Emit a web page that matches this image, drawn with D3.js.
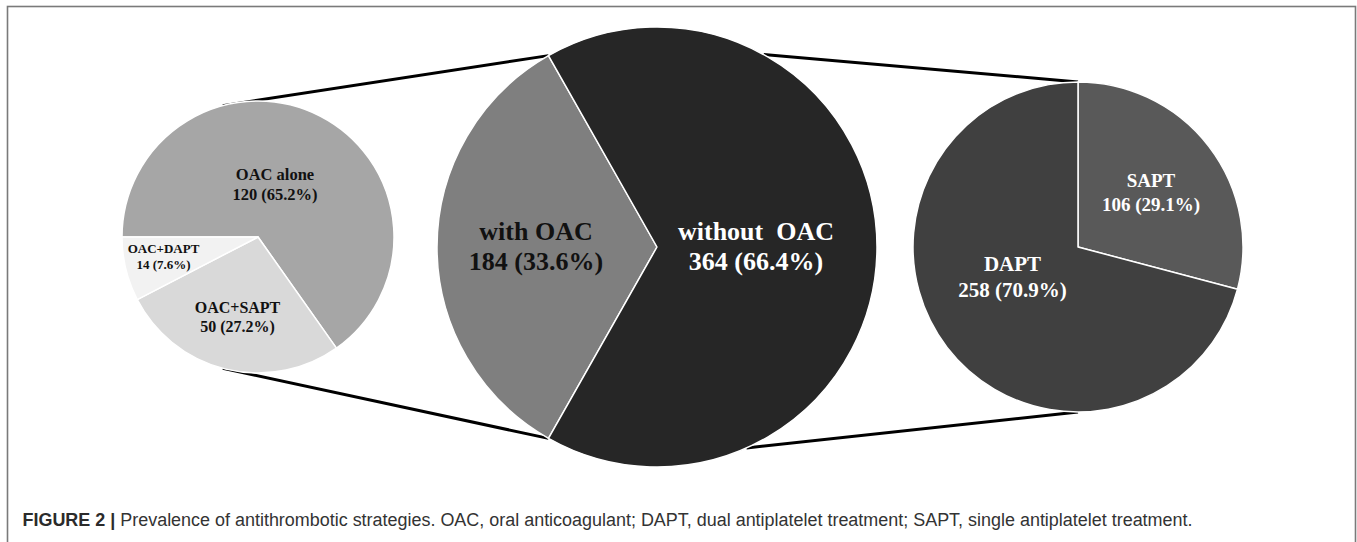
<!DOCTYPE html>
<html>
<head>
<meta charset="utf-8">
<script src="https://cdn.jsdelivr.net/npm/d3@7"></script>
<style>
  body { margin: 0; background: #fff; }
</style>
</head>
<body>
<script>
// dados
var leftLabels = ['OAC alone', 'OAC+SAPT', 'OAC+DAPT'];
var leftValues = [120, 50, 14];
var leftPct = ['65.2%', '27.2%', '7.6%'];

var midLabels = ['with OAC', 'without  OAC'];
var midValues = [184, 364];
var midPct = ['33.6%', '66.4%'];

var rightLabels = ['SAPT', 'DAPT'];
var rightValues = [106, 258];
var rightPct = ['29.1%', '70.9%'];

var caption = 'Prevalence of antithrombotic strategies. OAC, oral anticoagulant; DAPT, dual antiplatelet treatment; SAPT, single antiplatelet treatment.';

var svg = d3.select('body').append('svg').attr('width', 1357).attr('height', 542);

// moldura
svg.append('rect').attr('x', 7.5).attr('y', 6.5).attr('width', 1348).attr('height', 560)
    .attr('fill', 'none').attr('stroke', '#7a7a7a').attr('stroke-width', 1.6);

var deg = Math.PI / 180;
function ponto(c, r, a){
    return [c[0] + r * Math.sin(a), c[1] - r * Math.cos(a)];
}

// pizzas
var pizzas = [
    {c: [258, 237], r: 136, labels: leftLabels, values: leftValues, pct: leftPct,
     start: -90 * deg, cores: ['#a6a6a6', '#d9d9d9', '#f2f2f2'], txt: ['#111', '#111', '#111'],
     fs: [16.5, 16, 13], lh: [20, 19, 16],
     off: [[17, 180 - 237], [-20.5, 313 - 237], [-94.5, 253 - 237]]},
    {c: [657, 247], r: 220, labels: midLabels, values: midValues, pct: midPct, start: null,
     cores: ['#7f7f7f', '#262626'], txt: ['#111', '#fff'],
     fs: [26, 26], lh: [30, 30],
     off: [[-121, 240 - 247], [99, 240 - 247]]},
    {c: [1078, 247], r: 165, labels: rightLabels, values: rightValues, pct: rightPct, start: 0,
     cores: ['#595959', '#404040'], txt: ['#fff', '#fff'],
     fs: [19, 21], lh: [24, 26],
     off: [[73, 187 - 247], [-65.5, 271 - 247]]}
];

// fatia "with OAC" centrada à esquerda
var fracOAC = midValues[0] / d3.sum(midValues);
pizzas[1].start = 270 * deg - fracOAC * Math.PI;

pizzas.forEach(function(p){
    p.arcs = d3.pie().sort(null).value(function(d){ return d; })
        .startAngle(p.start).endAngle(p.start + 2 * Math.PI)(p.values);
});

// linhas de ligação
var esq = pizzas[0], meio = pizzas[1], dir = pizzas[2];
var ligacoes = [
    [ponto(esq.c, esq.r, -15 * deg), ponto(meio.c, meio.r, meio.arcs[0].endAngle)],
    [ponto(esq.c, esq.r, 195 * deg), ponto(meio.c, meio.r, meio.arcs[0].startAngle)],
    [ponto(meio.c, meio.r, 29 * deg), ponto(dir.c, dir.r, 0)],
    [ponto(meio.c, meio.r, 156 * deg), ponto(dir.c, dir.r, Math.PI)]
];
svg.append('g').selectAll('line').data(ligacoes).join('line')
    .attr('x1', function(d){ return d[0][0]; }).attr('y1', function(d){ return d[0][1]; })
    .attr('x2', function(d){ return d[1][0]; }).attr('y2', function(d){ return d[1][1]; })
    .attr('stroke', '#000').attr('stroke-width', 3);

pizzas.forEach(function(p){
    var g = svg.append('g').attr('transform', 'translate(' + p.c[0] + ',' + p.c[1] + ')');
    var arc = d3.arc().innerRadius(0).outerRadius(p.r);
    g.selectAll('path').data(p.arcs).join('path')
        .attr('d', arc)
        .attr('fill', function(d, i){ return p.cores[i]; })
        .attr('stroke', '#fff').attr('stroke-width', 1.5).attr('stroke-linejoin', 'round');

    var t = g.selectAll('text').data(p.arcs).join('text')
        .attr('text-anchor', 'middle')
        .attr('font-family', '"Liberation Serif", "Times New Roman", serif')
        .attr('font-weight', 'bold')
        .attr('font-size', function(d, i){ return p.fs[i]; })
        .attr('fill', function(d, i){ return p.txt[i]; });
    t.append('tspan')
        .attr('x', function(d, i){ return p.off[i][0]; })
        .attr('y', function(d, i){ return p.off[i][1]; })
        .attr('xml:space', 'preserve')
        .text(function(d, i){ return p.labels[i]; });
    t.append('tspan')
        .attr('x', function(d, i){ return p.off[i][0]; })
        .attr('y', function(d, i){ return p.off[i][1] + p.lh[i]; })
        .text(function(d, i){ return d.data + ' (' + p.pct[i] + ')'; });
});

// legenda
var leg = svg.append('text').attr('x', 22.5).attr('y', 526)
    .attr('font-family', '"Liberation Sans", Arial, sans-serif')
    .attr('font-size', 18).attr('fill', '#333')
    .attr('textLength', 1170).attr('lengthAdjust', 'spacingAndGlyphs');
leg.append('tspan').attr('font-weight', 'bold').attr('fill', '#2b2b2b').text('FIGURE 2 | ');
leg.append('tspan').text(caption);
</script>
</body>
</html>
